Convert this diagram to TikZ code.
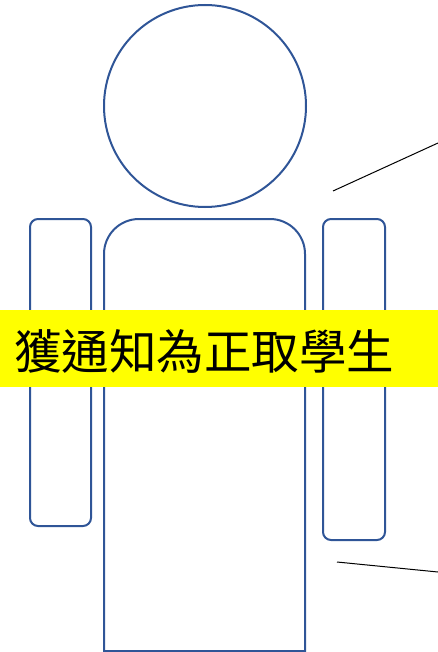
\documentclass[tikz,border=0pt]{standalone}
\usepackage{fontspec}
\newfontfamily\cjk{Noto Sans CJK TC}
\definecolor{outl}{HTML}{2F5597}
\definecolor{yel}{HTML}{FFFF00}
\begin{document}
\begin{tikzpicture}[x=1pt,y=-1pt,
  figline/.style={draw=outl,line width=2pt},
  thinline/.style={draw=black,line width=1pt}]
\useasboundingbox (0,0) rectangle (438,652);
% head
\draw[figline] (205,106) circle (101);
% left arm
\draw[figline,rounded corners=8pt] (30,219) rectangle (91,526);
% right arm
\draw[figline,rounded corners=8pt] (323,219) rectangle (385,540);
% body
\draw[figline] (104,651) -- (104,254) arc[start angle=180,end angle=270,radius=35]
  -- (270,219) arc[start angle=270,end angle=360,radius=35] -- (305,651) -- cycle;
% lines
\coordinate (t1) at (333,191);
\coordinate (t2) at (438,143);
\coordinate (b1) at (337,562);
\coordinate (b2) at (438,572);
\draw[thinline] (t1) -- (t2);
\draw[thinline] (b1) -- (b2);
% yellow label
\node[fill=yel,minimum width=438pt,minimum height=77pt,inner sep=0pt,anchor=north west] (box) at (0,310) {};
\node[anchor=west,inner sep=0pt,font=\cjk\fontsize{47.5pt}{47.5pt}\selectfont] (lbl) at (14,351) {獲通知為正取學生};
\end{tikzpicture}
\end{document}
